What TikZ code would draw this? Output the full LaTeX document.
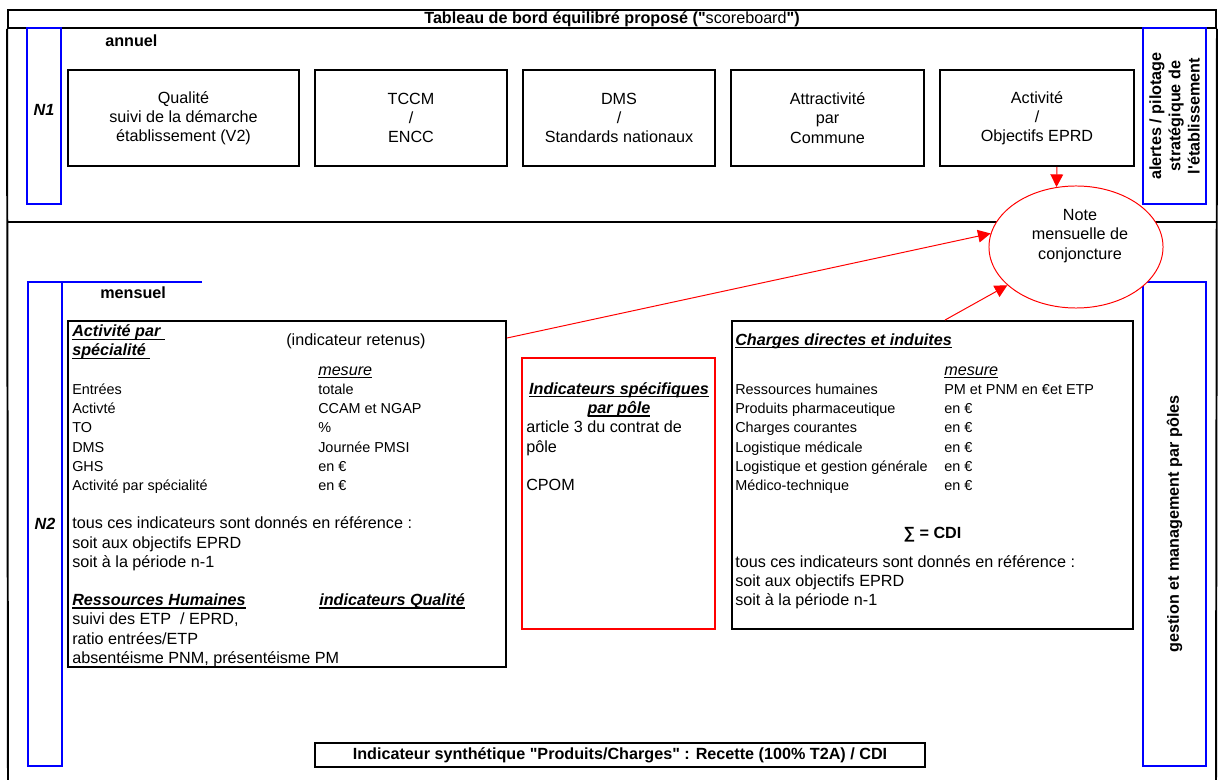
\documentclass[tikz,border=0pt]{standalone}
\usepackage{fontspec}
\setmainfont{Liberation Sans}[Ligatures=TeXOff]
\usetikzlibrary{arrows.meta,shapes.geometric,fit}
\newsavebox{\soulbox}
\newcommand{\souligne}[1]{\sbox\soulbox{#1}\rlap{\rule[-2pt]{\wd\soulbox}{0.8pt}}\usebox\soulbox}
\newcommand{\petit}{\fontsize{10.25}{13.66}\selectfont}
\tikzset{
  cadre/.style={line width=1.4pt},
  boite/.style={draw,line width=1.4pt,inner sep=0pt},
  bleu/.style={draw=blue,line width=1.4pt,inner sep=0pt},
  rouge/.style={red,line width=0.7pt,-{Triangle[length=9pt,width=9pt]}},
  txt/.style={anchor=base west,inner sep=0pt},
  ligne/.style={anchor=base west,inner sep=0pt,font=\petit}
}

\begin{document}
\begin{tikzpicture}[x=0.025cm,y=-0.025cm]
\fontsize{11.5}{13.66}\selectfont
\useasboundingbox (0,0) rectangle (1218,780);
\node[boite,fit={(8,10) (1216,28)}] (titre) {};
\node[inner sep=0pt] (titretxt) at (titre.center) {\textbf{Tableau de bord équilibré proposé ("}scoreboard\textbf{")}};
\draw[cadre] (titre.south west) -- (8,780);
\draw[cadre] (titre.south east) -- (1216,780);
\draw[cadre] (8,222) -- (1216,222);

\node[bleu,fit={(27,28) (61,204)},font=\bfseries\itshape] (n1) {N1};
\node[bleu,fit={(1143,28) (1206,204)}] (pilot) {};
\node[rotate=90,align=center,font=\bfseries] (alertes) at (pilot.center) {alertes / pilotage\\stratégique de\\l'établissement};
\node[txt,font=\bfseries] (annuel) at (105,47) {annuel};
\foreach \nom/\xa/\xb/\txt in {qual/68/299/{Qualité\\suivi de la démarche\\établissement (V2)},
    tccm/315/507/{TCCM\\/\\ENCC}, dms/523/715/{DMS\\/\\Standards nationaux},
    attr/731/924/{Attractivité\\par\\Commune}, activ/940/1134/{Activité\\/\\Objectifs EPRD}}{
  \node[boite,fit={(\xa,70) (\xb,166)}] (\nom) {};
  \node[align=center] (\nom-t) at (\nom.center) {\txt};
}

\draw[blue,line width=1.4pt] (202,282) -- (28,282) -- (28,766) -- (62,766) -- (62,282);
\node[font=\bfseries\itshape] (n2) at (45,524) {N2};
\node[bleu,fit={(1143,282) (1206,766)}] (gestion) {};
\node[rotate=90,font=\bfseries] (gestiontxt) at (gestion.center) {gestion et management par pôles};
\node[txt,font=\bfseries] (mensuel) at (100,299) {mensuel};

\node[ellipse,draw=red,fill=white,line width=0.7pt,minimum width=4.35cm,minimum height=3.05cm,inner sep=0pt] (note) at (1076,247) {};
\node[align=center] (notetxt) at (1080,236) {Note\\mensuelle de\\conjoncture};

\node[boite,fit={(68,321) (506,667)}] (gauche) {};
\node[draw=red,line width=1.4pt,inner sep=0pt,fit={(522,358) (715,629)}] (pole) {};
\node[boite,fit={(732,321) (1133,629)}] (droite) {};
\node[boite,fit={(315,743) (925,767)}] (synth) {};
\node[inner sep=0pt,font=\bfseries] (synthtxt) at (synth.center) {Indicateur synthétique "Produits/Charges" : Recette (100\% T2A) / CDI};

\node[txt,font=\bfseries\itshape] (actpar) at (72,337) {\souligne{Activité par\ }};
\node[txt,font=\bfseries\itshape] (specia) at (72,356) {\souligne{spécialité\ }};
\node[txt] (retenus) at (286,345.5) {(indicateur retenus)};
\node[txt,font=\itshape] (mesg) at (318,375.3) {\souligne{mesure}};
\foreach \k/\a/\b in {0/Entrées/totale, 1/Activté/CCAM et NGAP, 2/TO/\%, 3/DMS/Journée PMSI,
    4/GHS/en €, 5/Activité par spécialité/en €}{
  \node[ligne] (gl\k) at (72,{394.5+19.2*\k}) {\a};
  \node[ligne] (gm\k) at (318,{394.5+19.2*\k}) {\b};
}
\foreach \k/\t in {7/tous ces indicateurs sont donnés en référence :, 8/soit aux objectifs EPRD,
    9/soit à la période n-1, 12/{suivi des ETP\ \ / EPRD,}, 13/{ratio entrées/ETP},
    14/{absentéisme PNM, présentéisme PM}}
  \node[txt] (gb\k) at (72,{394.5+19.2*\k}) {\t};
\node[txt,font=\bfseries\itshape] (rh) at (72,605.7) {\souligne{Ressources Humaines}};
\node[txt,font=\bfseries\itshape] (qualite) at (319,605.7) {\souligne{indicateurs Qualité}};

\node[anchor=base,inner sep=0pt,font=\bfseries\itshape] (specif) at (619,394.5) {\souligne{Indicateurs spécifiques}};
\node[anchor=base,inner sep=0pt,font=\bfseries\itshape] (parpole) at (619,413.7) {\souligne{par pôle}};
\foreach \k/\t in {2/article 3 du contrat de, 3/pôle, 5/CPOM}
  \node[txt] (pl\k) at (526,{394.5+19.2*\k}) {\t};

\node[txt,font=\bfseries\itshape] (charges) at (735,345.5) {\souligne{Charges directes et induites}};
\node[txt,font=\itshape] (mesd) at (944,375.3) {\souligne{mesure}};
\foreach \k/\a/\b in {0/Ressources humaines/PM et PNM en €et ETP, 1/Produits pharmaceutique/en €,
    2/Charges courantes/en €, 3/Logistique médicale/en €,
    4/Logistique et gestion générale/en €, 5/Médico-technique/en €}{
  \node[ligne] (dl\k) at (735,{394.5+19.2*\k}) {\a};
  \node[ligne] (dm\k) at (944,{394.5+19.2*\k}) {\b};
}
\node[anchor=base,inner sep=0pt,font=\bfseries] (somme) at (932.5,538.5) {∑ = CDI};
\foreach \k/\t in {9/tous ces indicateurs sont donnés en référence :, 10/soit aux objectifs EPRD,
    11/soit à la période n-1}
  \node[txt] (db\k) at (735,{394.5+19.2*\k}) {\t};

\draw[rouge] ([xshift=14.2pt]activ.south) -- (note.108);
\draw[rouge] ([yshift=-12.8pt]gauche.north east) -- (note.171);
\draw[rouge] ([xshift=8.9pt]droite.north) -- (note);
\end{tikzpicture}
\end{document}
